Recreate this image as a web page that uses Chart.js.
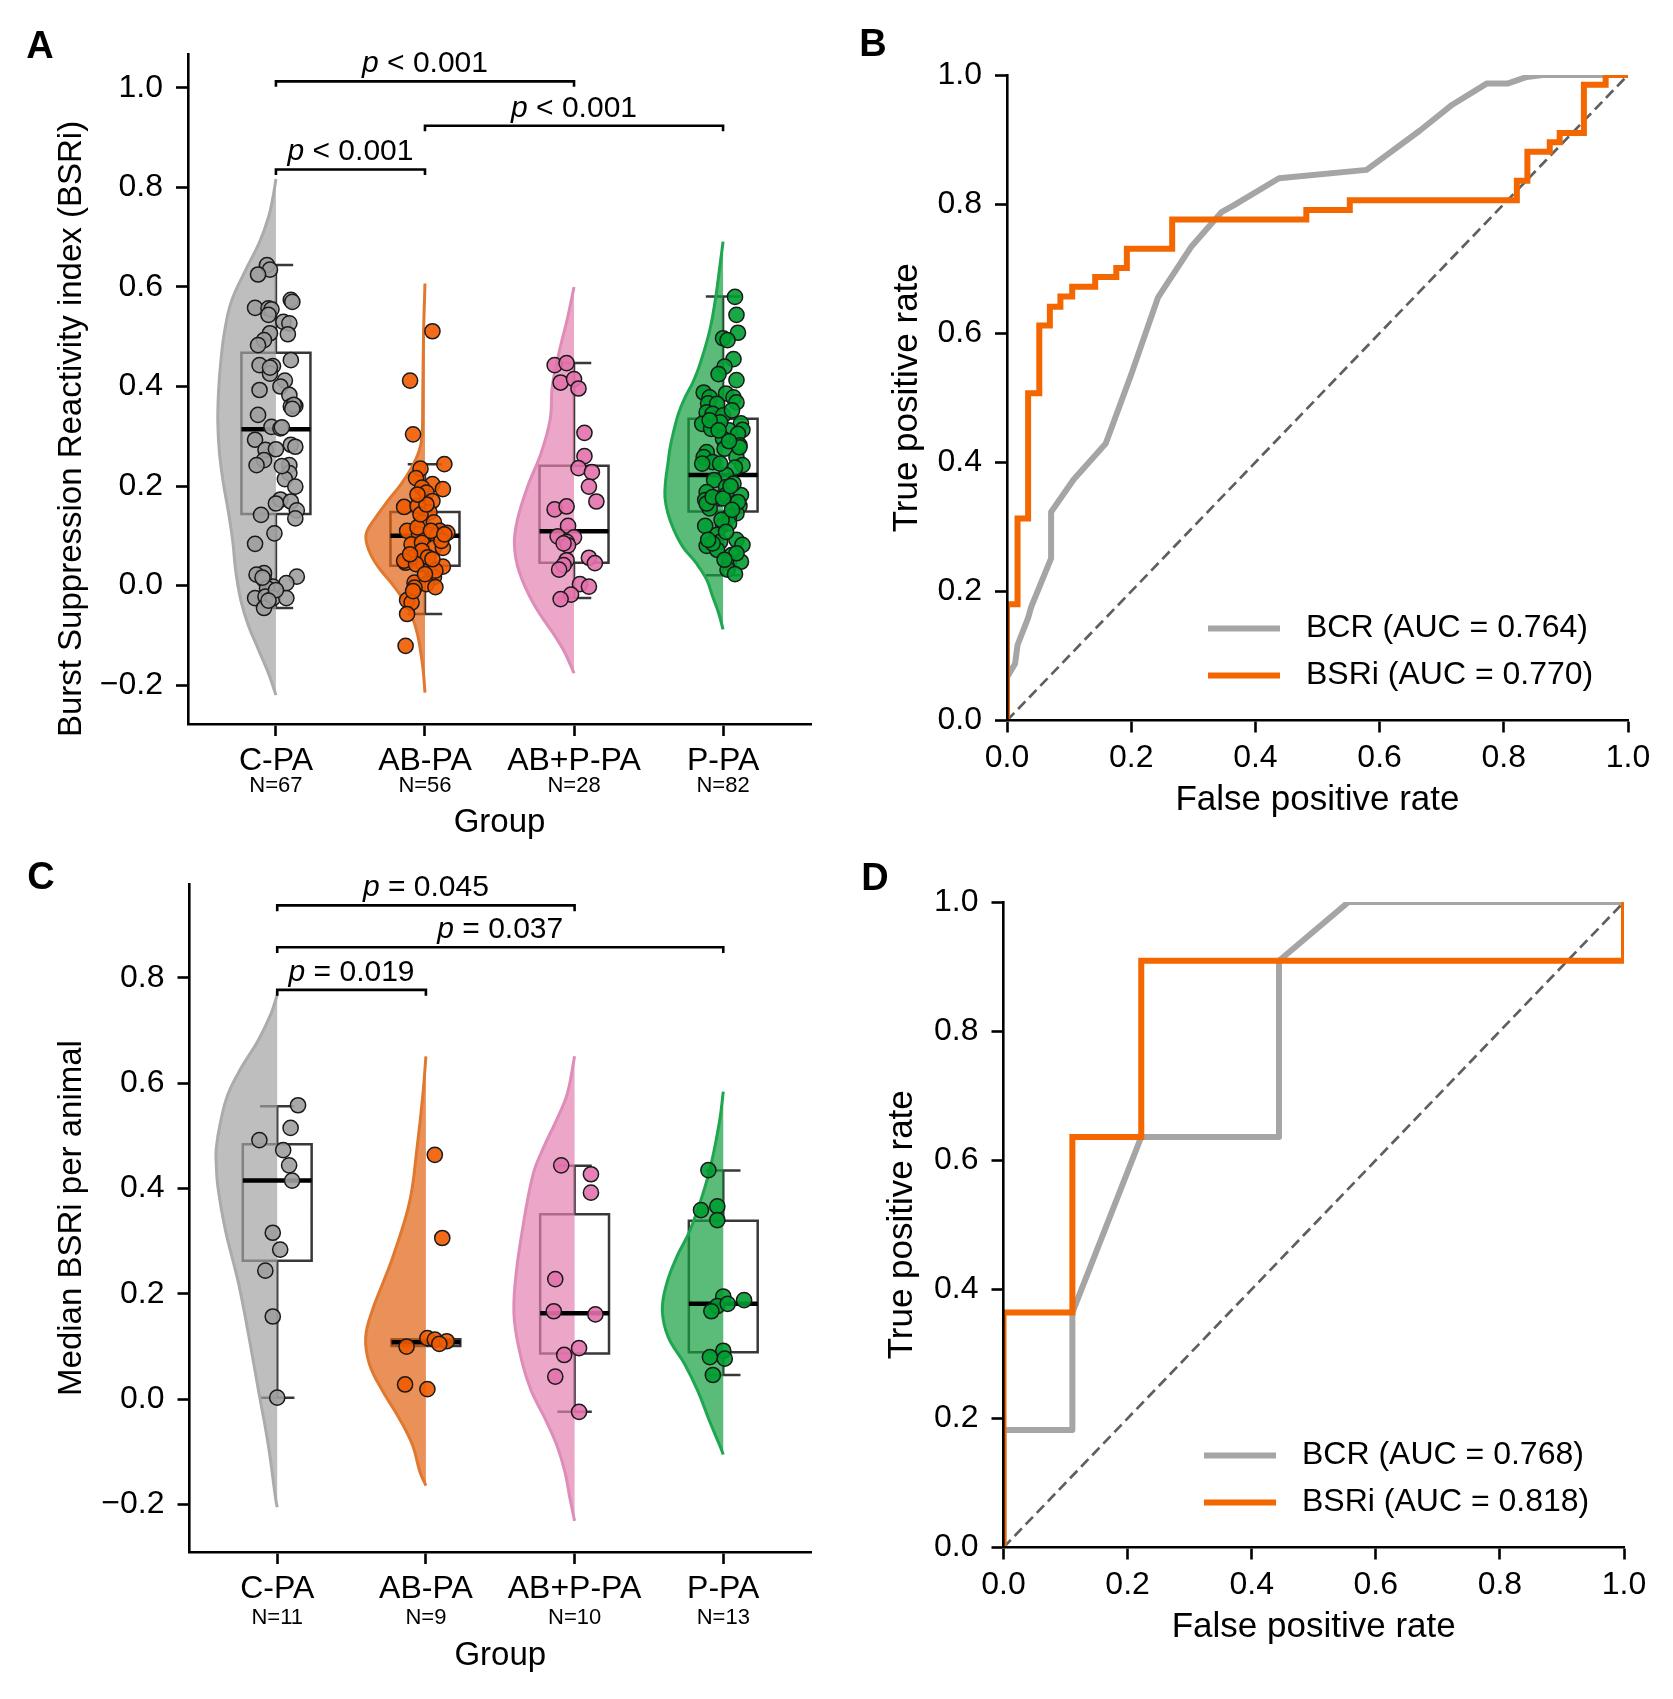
<!DOCTYPE html>
<html>
<head>
<meta charset="utf-8">
<script src="https://cdn.jsdelivr.net/npm/chart.js@4.4.1/dist/chart.umd.min.js"></script>
<style>
  html, body { margin: 0; padding: 0; background: #fff; }
  #wrap { position: relative; width: 1673px; height: 1699px; }
  canvas { position: absolute; }
</style>
</head>
<body>
<div id="wrap">
  <canvas id="cA" width="836" height="850" style="left:0;top:0"></canvas>
  <canvas id="cB" width="837" height="850" style="left:836px;top:0"></canvas>
  <canvas id="cC" width="836" height="849" style="left:0;top:850px"></canvas>
  <canvas id="cD" width="837" height="849" style="left:836px;top:850px"></canvas>
</div>
<script>
// ---- data ----
const groups = ['C-PA', 'AB-PA', 'AB+P-PA', 'P-PA'];
const nA = ['N=67', 'N=56', 'N=28', 'N=82'];
const nC = ['N=11', 'N=9', 'N=10', 'N=13'];

// [lower whisker, q1, median, q3, upper whisker]
const boxA = [
  [-0.045, 0.144, 0.314, 0.468, 0.644],
  [-0.057, 0.040, 0.100, 0.148, 0.244],
  [-0.025, 0.046, 0.109, 0.241, 0.447],
  [0.021, 0.149, 0.222, 0.335, 0.581]
];
const boxC = [
  [0.003, 0.263, 0.415, 0.484, 0.556],
  [0.101, 0.101, 0.108, 0.114, 0.114],
  [-0.024, 0.087, 0.163, 0.351, 0.443],
  [0.046, 0.089, 0.181, 0.339, 0.434]
];

// half-violin outline: [value, half width]
const violinA_cpa = [[0.817,0],[0.78,0.02],[0.74,0.05],[0.69,0.11],[0.63,0.21],[0.57,0.30],[0.51,0.345],[0.45,0.37],[0.39,0.385],[0.33,0.39],[0.27,0.38],[0.21,0.355],[0.15,0.32],[0.09,0.29],[0.03,0.27],[-0.03,0.235],[-0.08,0.185],[-0.13,0.115],[-0.18,0.045],[-0.22,0]];
const violinA_ab = [[0.607,0],[0.50,0.01],[0.37,0.015],[0.30,0.02],[0.27,0.04],[0.237,0.09],[0.204,0.16],[0.17,0.25],[0.137,0.33],[0.103,0.395],[0.07,0.375],[0.036,0.31],[0.003,0.22],[-0.031,0.14],[-0.064,0.085],[-0.098,0.05],[-0.131,0.03],[-0.17,0.012],[-0.215,0]];
const violinA_abp = [[0.600,0],[0.536,0.045],[0.469,0.10],[0.402,0.145],[0.334,0.16],[0.267,0.22],[0.20,0.31],[0.132,0.38],[0.084,0.40],[0.03,0.37],[-0.037,0.27],[-0.105,0.12],[-0.13,0.07],[-0.155,0.03],[-0.176,0]];
const violinA_p = [[0.691,0],[0.645,0.02],[0.578,0.05],[0.512,0.09],[0.445,0.155],[0.41,0.20],[0.378,0.255],[0.345,0.30],[0.312,0.33],[0.278,0.355],[0.245,0.37],[0.212,0.385],[0.178,0.39],[0.145,0.37],[0.112,0.33],[0.078,0.27],[0.045,0.18],[0.012,0.11],[-0.022,0.07],[-0.055,0.03],[-0.088,0]];
const violinC_cpa = [[0.768,0],[0.733,0.04],[0.68,0.13],[0.63,0.24],[0.58,0.33],[0.528,0.38],[0.477,0.41],[0.446,0.41],[0.405,0.40],[0.323,0.35],[0.22,0.26],[0.118,0.19],[0.015,0.125],[-0.087,0.06],[-0.19,0.01],[-0.205,0]];
const violinC_ab = [[0.651,0],[0.579,0.02],[0.476,0.06],[0.374,0.11],[0.272,0.22],[0.22,0.29],[0.169,0.36],[0.118,0.405],[0.067,0.38],[0.015,0.29],[-0.036,0.18],[-0.087,0.09],[-0.138,0.04],[-0.164,0]];
const violinC_abp = [[0.651,0],[0.579,0.05],[0.528,0.125],[0.477,0.21],[0.426,0.28],[0.323,0.35],[0.22,0.40],[0.149,0.405],[0.067,0.35],[0.015,0.29],[-0.036,0.20],[-0.087,0.12],[-0.138,0.065],[-0.19,0.03],[-0.231,0]];
const violinC_p = [[0.584,0],[0.528,0.025],[0.426,0.10],[0.323,0.22],[0.272,0.31],[0.22,0.38],[0.169,0.41],[0.118,0.37],[0.067,0.26],[0.015,0.17],[-0.036,0.10],[-0.087,0.025],[-0.105,0]];

// jittered points: [x jitter, value]
const stripA_cpa = [[-0.06,0.644],[-0.04,0.635],[-0.12,0.625],[0.10,0.574],[0.11,0.570],[-0.14,0.558],[-0.05,0.557],[-0.03,0.555],[-0.05,0.544],[0.05,0.530],[0.09,0.527],[0.08,0.505],[-0.04,0.507],[-0.08,0.493],[-0.12,0.483],[0.10,0.453],[-0.11,0.443],[-0.02,0.441],[-0.04,0.426],[0.06,0.412],[0.03,0.400],[-0.11,0.393],[0.09,0.383],[0.10,0.360],[0.13,0.361],[0.12,0.363],[-0.12,0.343],[-0.03,0.319],[0.03,0.316],[0.04,0.318],[-0.14,0.293],[-0.07,0.273],[0.00,0.274],[0.10,0.283],[0.13,0.279],[-0.08,0.252],[-0.13,0.242],[0.09,0.242],[0.09,0.226],[0.06,0.214],[0.13,0.199],[0.03,0.173],[0.00,0.165],[0.10,0.169],[-0.10,0.142],[0.14,0.151],[0.13,0.135],[-0.01,0.105],[-0.14,0.084],[-0.08,0.025],[-0.13,0.022],[0.14,0.018],[-0.08,0.012],[0.07,0.005],[-0.02,-0.002],[-0.06,-0.005],[-0.14,-0.025],[-0.07,-0.022],[-0.02,-0.025],[0.07,-0.025],[-0.08,-0.045],[0.00,-0.009],[-0.09,0.016],[-0.05,-0.030],[0.04,0.240],[-0.04,0.438],[0.11,0.355]];
const stripA_ab = [[0.05,0.511],[-0.10,0.412],[-0.08,0.304],[0.13,0.244],[-0.03,0.235],[-0.06,0.216],[0.05,0.204],[0.12,0.194],[-0.02,0.197],[0.01,0.187],[0.05,0.170],[-0.14,0.158],[-0.05,0.160],[0.03,0.147],[-0.02,0.127],[0.06,0.127],[-0.12,0.110],[0.10,0.110],[0.15,0.106],[0.03,0.102],[-0.04,0.103],[0.08,0.100],[-0.09,0.083],[-0.02,0.086],[0.06,0.076],[0.12,0.076],[-0.07,0.058],[-0.02,0.070],[-0.13,0.046],[-0.01,0.043],[0.04,0.036],[0.12,0.038],[0.06,0.017],[-0.07,0.006],[0.01,0.003],[0.07,-0.003],[-0.07,-0.004],[-0.12,-0.029],[-0.09,-0.034],[-0.12,-0.057],[-0.13,-0.121],[-0.14,0.050],[-0.05,0.117],[0.11,0.090],[0.02,0.057],[-0.06,0.043],[0.04,0.110],[-0.03,0.143],[0.07,0.030],[-0.08,-0.011],[0.01,0.163],[-0.05,0.183],[0.13,0.103],[0.00,0.023],[-0.10,0.063],[0.05,0.053]];
const stripA_abp = [[-0.13,0.443],[-0.05,0.447],[-0.09,0.408],[0.00,0.415],[0.03,0.396],[0.07,0.307],[0.07,0.260],[0.03,0.236],[0.12,0.228],[0.10,0.199],[0.15,0.169],[-0.13,0.153],[-0.05,0.159],[-0.04,0.120],[-0.11,0.099],[0.00,0.097],[-0.05,0.088],[-0.04,0.081],[0.10,0.056],[0.14,0.045],[-0.05,0.051],[-0.07,0.041],[-0.10,0.032],[0.04,0.003],[0.10,-0.002],[-0.02,-0.018],[-0.09,-0.027],[-0.07,0.085]];
const stripA_p = [[0.08,0.580],[0.09,0.544],[0.10,0.508],[0.00,0.497],[0.03,0.493],[0.07,0.455],[0.01,0.440],[-0.03,0.425],[0.09,0.413],[-0.13,0.388],[0.02,0.386],[-0.09,0.378],[0.07,0.378],[0.09,0.368],[-0.10,0.366],[-0.04,0.365],[-0.11,0.348],[-0.07,0.345],[0.00,0.342],[-0.14,0.325],[-0.08,0.315],[0.12,0.326],[0.13,0.313],[0.04,0.312],[0.10,0.305],[0.00,0.295],[0.11,0.282],[0.01,0.275],[-0.11,0.268],[-0.13,0.258],[-0.07,0.248],[0.09,0.258],[0.13,0.242],[0.08,0.237],[0.02,0.222],[-0.06,0.212],[0.02,0.198],[-0.11,0.188],[0.12,0.182],[-0.12,0.172],[-0.03,0.175],[0.02,0.182],[-0.09,0.155],[0.07,0.165],[0.11,0.160],[0.09,0.145],[0.04,0.138],[-0.12,0.120],[0.00,0.122],[0.04,0.125],[-0.04,0.102],[-0.02,0.088],[-0.11,0.080],[0.09,0.092],[0.13,0.082],[-0.04,0.072],[0.06,0.062],[0.04,0.046],[0.12,0.048],[0.03,0.032],[0.08,0.023],[-0.02,0.328],[0.06,0.352],[-0.14,0.245],[-0.02,0.245],[-0.11,0.165],[-0.07,0.178],[0.10,0.168],[-0.01,0.132],[0.02,0.108],[-0.07,0.085],[0.11,0.278],[0.04,0.290],[-0.09,0.332],[-0.03,0.312],[0.07,0.205],[0.00,0.175],[0.06,0.152],[-0.10,0.092],[0.09,0.065],[0.01,0.052],[0.05,0.200]];
const stripC_cpa = [[0.00,0.003],[-0.12,0.492],[0.14,0.558],[0.09,0.515],[0.04,0.473],[0.08,0.444],[0.10,0.415],[-0.03,0.316],[0.02,0.284],[-0.08,0.244],[-0.03,0.157]];
const stripC_ab = [[0.06,0.464],[0.11,0.306],[0.01,0.116],[0.06,0.113],[0.14,0.110],[0.09,0.105],[-0.13,0.100],[-0.14,0.028],[0.01,0.019]];
const stripC_abp = [[-0.09,0.444],[0.11,0.427],[0.11,0.392],[-0.13,0.228],[-0.14,0.167],[0.14,0.161],[0.03,0.097],[-0.07,0.084],[-0.13,0.043],[0.03,-0.024]];
const stripC_p = [[-0.10,0.435],[-0.15,0.359],[-0.04,0.366],[-0.04,0.340],[0.00,0.195],[0.14,0.188],[-0.04,0.177],[-0.08,0.167],[0.03,0.181],[0.00,0.092],[-0.09,0.080],[0.01,0.077],[-0.07,0.046]];

// significance brackets: [from group, to group, height, text after p]
const bracketsA = [[0, 2, 1.013, '< 0.001'], [1, 3, 0.924, '< 0.001'], [0, 1, 0.836, '< 0.001']];
const bracketsC = [[0, 2, 0.9375, '= 0.045'], [0, 3, 0.858, '= 0.037'], [0, 1, 0.777, '= 0.019']];

const yTicksA = [-0.2, 0, 0.2, 0.4, 0.6, 0.8, 1.0];
const yTicksC = [-0.2, 0, 0.2, 0.4, 0.6, 0.8];
const rocTicks = [0, 0.2, 0.4, 0.6, 0.8, 1.0];

// ROC curves (false positive rate, true positive rate)
const bcrB_fpr = [0, 0, 0.013, 0.017, 0.034, 0.039, 0.071, 0.071, 0.107, 0.159, 0.2, 0.243, 0.296, 0.346, 0.365, 0.438, 0.579, 0.665, 0.717, 0.773, 0.807, 0.837, 0.863, 1];
const bcrB_tpr = [0, 0.067, 0.088, 0.117, 0.159, 0.176, 0.251, 0.323, 0.373, 0.429, 0.536, 0.655, 0.733, 0.788, 0.798, 0.84, 0.853, 0.914, 0.954, 0.987, 0.987, 0.997, 1.0, 1.0];
const bsriB_fpr = [0, 0, 0.017, 0.017, 0.034, 0.034, 0.052, 0.052, 0.069, 0.069, 0.086, 0.086, 0.105, 0.105, 0.142, 0.142, 0.176, 0.176, 0.193, 0.193, 0.266, 0.266, 0.482, 0.482, 0.552, 0.552, 0.821, 0.821, 0.838, 0.838, 0.874, 0.874, 0.890, 0.890, 0.929, 0.929, 0.964, 0.964, 1];
const bsriB_tpr = [0, 0.18, 0.18, 0.313, 0.313, 0.507, 0.507, 0.612, 0.612, 0.641, 0.641, 0.657, 0.657, 0.672, 0.672, 0.687, 0.687, 0.701, 0.701, 0.731, 0.731, 0.776, 0.776, 0.791, 0.791, 0.806, 0.806, 0.836, 0.836, 0.881, 0.881, 0.896, 0.896, 0.910, 0.910, 0.985, 0.985, 1, 1];
const bcrD_fpr = [0, 0, 0.111, 0.111, 0.222, 0.444, 0.444, 0.556, 1];
const bcrD_tpr = [0, 0.182, 0.182, 0.364, 0.636, 0.636, 0.909, 1, 1];
const bsriD_fpr = [0, 0, 0.111, 0.111, 0.222, 0.222, 1, 1];
const bsriD_tpr = [0, 0.364, 0.364, 0.636, 0.636, 0.909, 0.909, 1];
const legendB = ['BCR (AUC = 0.764)', 'BSRi (AUC = 0.770)'];
const legendD = ['BCR (AUC = 0.768)', 'BSRi (AUC = 0.818)'];

// ---- styles ----
const FONT = "'Liberation Sans', Arial, sans-serif";
Chart.defaults.font.family = FONT;
Chart.defaults.color = '#000';

const pointFill = ['rgba(158,158,158,0.9)', 'rgba(241,91,0,0.9)', 'rgba(227,114,172,0.9)', 'rgba(0,158,49,0.9)'];
const violinFill = ['rgba(162,162,162,0.7)', 'rgba(223,98,19,0.7)', 'rgba(226,128,176,0.7)', 'rgba(22,159,64,0.7)'];
const violinEdge = ['#ababab', '#e0782f', '#de8cb8', '#1ea650'];
const GREY = '#a5a5a5', ORANGE = '#f36600';
const BOX_W = 0.463;

const fmt = v => (v < -1e-9 ? '\u2212' : '') + Math.abs(v).toFixed(1);

function baseAxis(ticks, min, max, title, titleSize, titlePad, fitSize, isX, tickPad) {
  return {
    type: 'linear', min: min, max: max,
    afterBuildTicks: s => { s.ticks = ticks.map(v => ({ value: v })); },
    afterFit: s => { if (isX) s.height = fitSize; else s.width = fitSize; },
    ticks: { font: { size: 32 }, color: '#000', padding: tickPad, maxRotation: 0, autoSkip: false, callback: fmt },
    grid: { drawOnChartArea: false, drawTicks: true, tickLength: 12, tickWidth: 2.6, tickColor: '#000' },
    border: { display: true, color: '#000', width: 2.6, z: 1 },
    title: { display: !!title, text: title, color: '#000', font: { size: titleSize }, padding: titlePad }
  };
}

function drawLetter(ctx, letter, x, y) {
  ctx.font = 'bold 38px ' + FONT;
  ctx.textAlign = 'center';
  ctx.textBaseline = 'middle';
  ctx.fillStyle = '#000';
  ctx.fillText(letter, x, y);
}

function violinChart(id, o) {
  const datasets = [];
  // boxes and whiskers
  const boxPts = [];
  o.box.forEach((s, i) => {
    const [lo, q1, med, q3, hi] = s;
    const l = i - BOX_W / 2, r = i + BOX_W / 2, cl = i - BOX_W / 4, cr = i + BOX_W / 4;
    boxPts.push({x: l, y: q1}, {x: r, y: q1}, {x: r, y: q3}, {x: l, y: q3}, {x: l, y: q1}, {x: r, y: q1}, {x: i, y: null},
      {x: i, y: q3}, {x: i, y: hi}, {x: i, y: null}, {x: cl, y: hi}, {x: cr, y: hi}, {x: i, y: null},
      {x: i, y: q1}, {x: i, y: lo}, {x: i, y: null}, {x: cl, y: lo}, {x: cr, y: lo}, {x: i, y: null});
  });
  datasets.push({ data: boxPts, borderColor: '#383838', borderWidth: 2.5, pointRadius: 0, tension: 0, spanGaps: false, order: 6 });
  // half violins
  o.violins.forEach((prof, i) => {
    datasets.push({
      data: prof.map(([y, w]) => ({ x: i - w, y: y })),
      fill: 'shape', backgroundColor: violinFill[i], borderColor: violinEdge[i], borderWidth: 3,
      pointRadius: 0, tension: 0.4, order: 5
    });
  });
  // medians
  const medPts = [];
  o.box.forEach((s, i) => { medPts.push({x: i - BOX_W / 2, y: s[2]}, {x: i + BOX_W / 2, y: s[2]}, {x: i, y: null}); });
  datasets.push({ data: medPts, borderColor: '#000', borderWidth: 4.5, pointRadius: 0, tension: 0, spanGaps: false, order: 4 });
  // jittered points
  o.strips.forEach((pts, i) => {
    datasets.push({
      data: pts.map(p => ({ x: i + p[0], y: p[1] })), showLine: false,
      pointRadius: 7.6, pointBackgroundColor: pointFill[i], pointBorderColor: '#1a1a1a', pointBorderWidth: 1.5,
      order: 2
    });
  });
  // brackets
  const brPts = [];
  o.brackets.forEach(([a, b, y]) => {
    brPts.push({x: a, y: y - 0.011}, {x: a, y: y}, {x: b, y: y}, {x: b, y: y - 0.011}, {x: a, y: null});
  });
  datasets.push({ data: brPts, borderColor: '#000', borderWidth: 2.6, pointRadius: 0, tension: 0, spanGaps: false, order: 1, clip: false });

  const xAxis = baseAxis([0, 1, 2, 3], -0.59, 3.59, 'Group', 33, { top: 0, bottom: o.xTitlePad }, o.xh, true, 6);
  xAxis.ticks.callback = v => groups[Math.round(v)];
  // y title is drawn by the plugin so it can sit where the original put it
  const yAxis = baseAxis(o.yTicks, o.ymin, o.ymax, '', 33, { top: 0, bottom: 0 }, o.yw, false, 13);

  new Chart(document.getElementById(id), {
    type: 'line',
    data: { datasets: datasets },
    options: {
      responsive: false, animation: false, events: [], devicePixelRatio: 1,
      layout: { padding: o.padding },
      scales: { x: xAxis, y: yAxis },
      plugins: { legend: { display: false }, tooltip: { enabled: false } }
    },
    plugins: [{
      id: 'annot' + o.letter,
      afterDraw(chart) {
        const ctx = chart.ctx, xs = chart.scales.x, ys = chart.scales.y, ca = chart.chartArea;
        ctx.save();
        drawLetter(ctx, o.letter, o.letterPos[0], o.letterPos[1]);
        // y axis title
        ctx.save();
        ctx.translate(o.yTitlePos[0], o.yTitlePos[1]);
        ctx.rotate(-Math.PI / 2);
        ctx.font = '33px ' + FONT;
        ctx.textAlign = 'center';
        ctx.textBaseline = 'middle';
        ctx.fillText(o.yTitle, 0, 0);
        ctx.restore();
        ctx.font = '22px ' + FONT;
        ctx.textAlign = 'center';
        ctx.textBaseline = 'middle';
        o.nLabels.forEach((t, i) => ctx.fillText(t, xs.getPixelForValue(i), ca.bottom + o.nOffset));
        o.brackets.forEach(([a, b, y, txt]) => {
          const cx = xs.getPixelForValue((a + b) / 2), by = ys.getPixelForValue(y) - 9;
          ctx.font = 'italic 30px ' + FONT;
          const wp = ctx.measureText('p').width;
          ctx.font = '30px ' + FONT;
          const rest = ' ' + txt;
          const wr = ctx.measureText(rest).width;
          const x0 = cx - (wp + wr) / 2;
          ctx.textAlign = 'left';
          ctx.textBaseline = 'alphabetic';
          ctx.font = 'italic 30px ' + FONT;
          ctx.fillText('p', x0, by);
          ctx.font = '30px ' + FONT;
          ctx.fillText(rest, x0 + wp, by);
        });
        ctx.restore();
      }
    }]
  });
}

function rocChart(id, o) {
  const toPts = (xs, ys) => xs.map((x, i) => ({ x: x, y: ys[i] }));
  const datasets = [
    { data: [{x: 0, y: 0}, {x: 1, y: 1}], borderColor: '#5f5f5f', borderWidth: 2.7, borderDash: [10.5, 5.5], pointRadius: 0, tension: 0, order: 3, clip: 0 },
    { data: toPts(o.bcrX, o.bcrY), borderColor: GREY, borderWidth: 6, pointRadius: 0, tension: 0, order: 2, clip: 0, borderJoinStyle: 'round' },
    { data: toPts(o.bsriX, o.bsriY), borderColor: ORANGE, borderWidth: 6, pointRadius: 0, tension: 0, order: 1, clip: 0, borderJoinStyle: 'miter' }
  ];
  const xAxis = baseAxis(rocTicks, 0, 1, 'False positive rate', 35, { top: 0, bottom: o.xTitlePad }, o.xh, true, 6);
  const yAxis = baseAxis(rocTicks, 0, 1, 'True positive rate', 35, { top: o.yTitlePad, bottom: 0 }, o.yw, false, 13);
  new Chart(document.getElementById(id), {
    type: 'line',
    data: { datasets: datasets },
    options: {
      responsive: false, animation: false, events: [], devicePixelRatio: 1,
      layout: { padding: o.padding },
      scales: { x: xAxis, y: yAxis },
      plugins: { legend: { display: false }, tooltip: { enabled: false } }
    },
    plugins: [{
      id: 'annot' + o.letter,
      afterDraw(chart) {
        const ctx = chart.ctx, ca = chart.chartArea;
        ctx.save();
        drawLetter(ctx, o.letter, o.letterPos[0], o.letterPos[1]);
        ctx.font = '32px ' + FONT;
        ctx.textAlign = 'left';
        ctx.textBaseline = 'middle';
        [GREY, ORANGE].forEach((c, k) => {
          const y = ca.bottom - 92 + k * 47;
          ctx.strokeStyle = c;
          ctx.lineWidth = 6;
          ctx.beginPath();
          ctx.moveTo(ca.right - 420, y);
          ctx.lineTo(ca.right - 348, y);
          ctx.stroke();
          ctx.fillStyle = '#000';
          ctx.fillText(o.legend[k], ca.right - 322, y);
        });
        ctx.restore();
      }
    }]
  });
}

violinChart('cA', {
  letter: 'A', letterPos: [40, 48],
  box: boxA, violins: [violinA_cpa, violinA_ab, violinA_abp, violinA_p],
  strips: [stripA_cpa, stripA_ab, stripA_abp, stripA_p],
  brackets: bracketsA, nLabels: nA, nOffset: 62,
  yTicks: yTicksA, ymin: -0.278, ymax: 1.068,
  yTitle: 'Burst Suppression Reactivity index (BSRi)', yTitlePos: [71.5, 429], xTitlePad: 7,
  yw: 188, xh: 126, padding: { left: 0, right: 25, top: 54, bottom: 0 }
});

violinChart('cC', {
  letter: 'C', letterPos: [41, 29],
  box: boxC, violins: [violinC_cpa, violinC_ab, violinC_abp, violinC_p],
  strips: [stripC_cpa, stripC_ab, stripC_abp, stripC_p],
  brackets: bracketsC, nLabels: nC, nOffset: 66,
  yTicks: yTicksC, ymin: -0.29, ymax: 0.978,
  yTitle: 'Median BSRi per animal', yTitlePos: [71.8, 368], xTitlePad: 23,
  yw: 189.5, xh: 147, padding: { left: 0, right: 25, top: 34, bottom: 0 }
});

rocChart('cB', {
  letter: 'B', letterPos: [37, 46],
  bcrX: bcrB_fpr, bcrY: bcrB_tpr, bsriX: bsriB_fpr, bsriY: bsriB_tpr, legend: legendB,
  yTitlePad: 50.5, xTitlePad: 29,
  yw: 171, xh: 129.5, padding: { left: 0, right: 45, top: 75, bottom: 0 }
});

rocChart('cD', {
  letter: 'D', letterPos: [39, 30],
  bcrX: bcrD_fpr, bcrY: bcrD_tpr, bsriX: bsriD_fpr, bsriY: bsriD_tpr, legend: legendD,
  yTitlePad: 45, xTitlePad: 51,
  yw: 167.5, xh: 151.5, padding: { left: 0, right: 49, top: 52, bottom: 0 }
});
</script>
</body>
</html>
